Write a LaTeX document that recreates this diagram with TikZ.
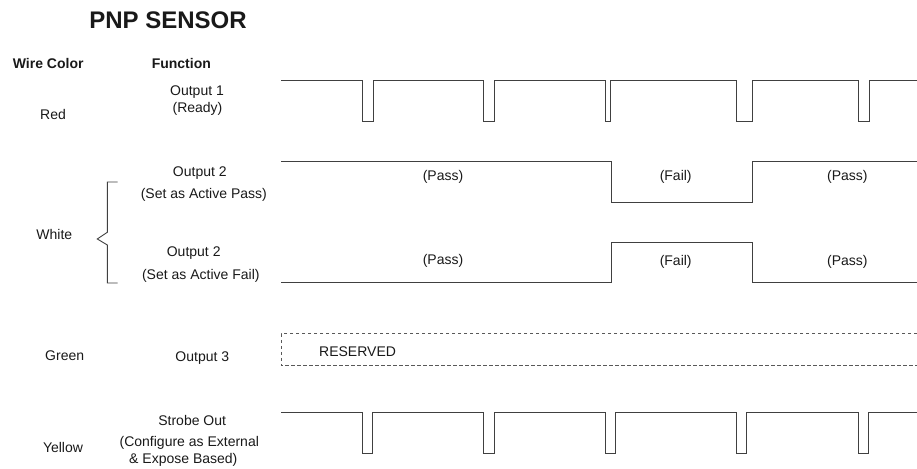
\documentclass[tikz,border=0pt]{standalone}
\usepackage{fontspec}
\setmainfont{Liberation Sans}
\begin{document}
\begin{tikzpicture}[x=1pt,y=-1pt,
  lbl/.style={inner sep=0pt,font=\fontsize{14}{16}\selectfont,text=black!90},
  hdr/.style={lbl,font=\fontsize{14}{16}\selectfont\bfseries},
  wave/.style={draw=black!75,line width=0.9pt},
  rsv/.style={draw=black!65,line width=0.8pt,dash pattern=on 3.5pt off 2.5pt}]
\useasboundingbox (0,0) rectangle (917,468);
% titles
\node[lbl,font=\fontsize{24}{28}\selectfont\bfseries] (title) at (168,20) {PNP SENSOR};
\node[hdr] (wc) at (48.2,63.5) {Wire Color};
\node[hdr] (fn) at (181.3,63.5) {Function};
% wire colours
\node[lbl] (red) at (53,114.3) {Red};
\node[lbl] (white) at (54.3,234) {White};
\node[lbl] (green) at (64.7,356) {Green};
\node[lbl] (yellow) at (63,447.3) {Yellow};
% functions
\node[lbl] (o1) at (197,91.7) {Output 1};
\node[lbl] (o1b) at (197.5,109.3) {(Ready)};
\node[lbl] (o2) at (199.8,172.7) {Output 2};
\node[lbl] (o2b) at (203.8,195) {(Set as Active Pass)};
\node[lbl] (o2f) at (193.7,253.5) {Output 2};
\node[lbl] (o2fb) at (200.8,275.5) {(Set as Active Fail)};
\node[lbl] (o3) at (202.3,357.7) {Output 3};
\node[lbl] (so) at (192.2,420) {Strobe Out};
\node[lbl] (sob) at (189.3,443) {(Configure as External};
\node[lbl] (soc) at (183.3,459.5) {\& Expose Based)};
% bracket
\draw[wave] (117.7,182) -- (107.3,182) -- (107.3,232.3) -- (97.3,239) -- (107.3,245) -- (107.3,283) -- (117.7,283);
% Red waveform
\draw[wave] (281,80.7) -- (362.3,80.7) -- (362.3,121) -- (373,121) -- (373,80.7)
  -- (483.7,80.7) -- (483.7,121) -- (494.3,121) -- (494.3,80.7)
  -- (605.3,80.7) -- (605.3,121) -- (610.7,121) -- (610.7,80.7)
  -- (736.7,80.7) -- (736.7,121) -- (752.7,121) -- (752.7,80.7)
  -- (858.3,80.7) -- (858.3,121) -- (869,121) -- (869,80.7) -- (917,80.7);
% Output 2 active pass
\draw[wave] (281,161.7) -- (611.3,161.7) -- (611.3,202) -- (752.7,202) -- (752.7,161.7) -- (917,161.7);
\node[lbl] (p1) at (443,177) {(Pass)};
\node[lbl] (f1) at (675.7,177) {(Fail)};
\node[lbl] (p2) at (847.3,177) {(Pass)};
% Output 2 active fail
\draw[wave] (281,282.7) -- (611.3,282.7) -- (611.3,242.7) -- (752.7,242.7) -- (752.7,282.7) -- (917,282.7);
\node[lbl] (p3) at (443,261) {(Pass)};
\node[lbl] (f2) at (675.7,262) {(Fail)};
\node[lbl] (p4) at (847.3,262) {(Pass)};
% Reserved
\draw[rsv] (917,333.8) -- (281,333.8) -- (281,365.7) -- (917,365.7);
\node[lbl,anchor=west] (res) at (319,351.7) {RESERVED};
% Yellow strobe
\draw[wave] (281,412.3) -- (362.3,412.3) -- (362.3,453) -- (372.7,453) -- (372.7,412.3)
  -- (483.7,412.3) -- (483.7,453) -- (494.3,453) -- (494.3,412.3)
  -- (605.3,412.3) -- (605.3,453) -- (615.7,453) -- (615.7,412.3)
  -- (736.7,412.3) -- (736.7,453) -- (746.7,453) -- (746.7,412.3)
  -- (858.3,412.3) -- (858.3,453) -- (868.7,453) -- (868.7,412.3) -- (917,412.3);
\end{tikzpicture}
\end{document}
